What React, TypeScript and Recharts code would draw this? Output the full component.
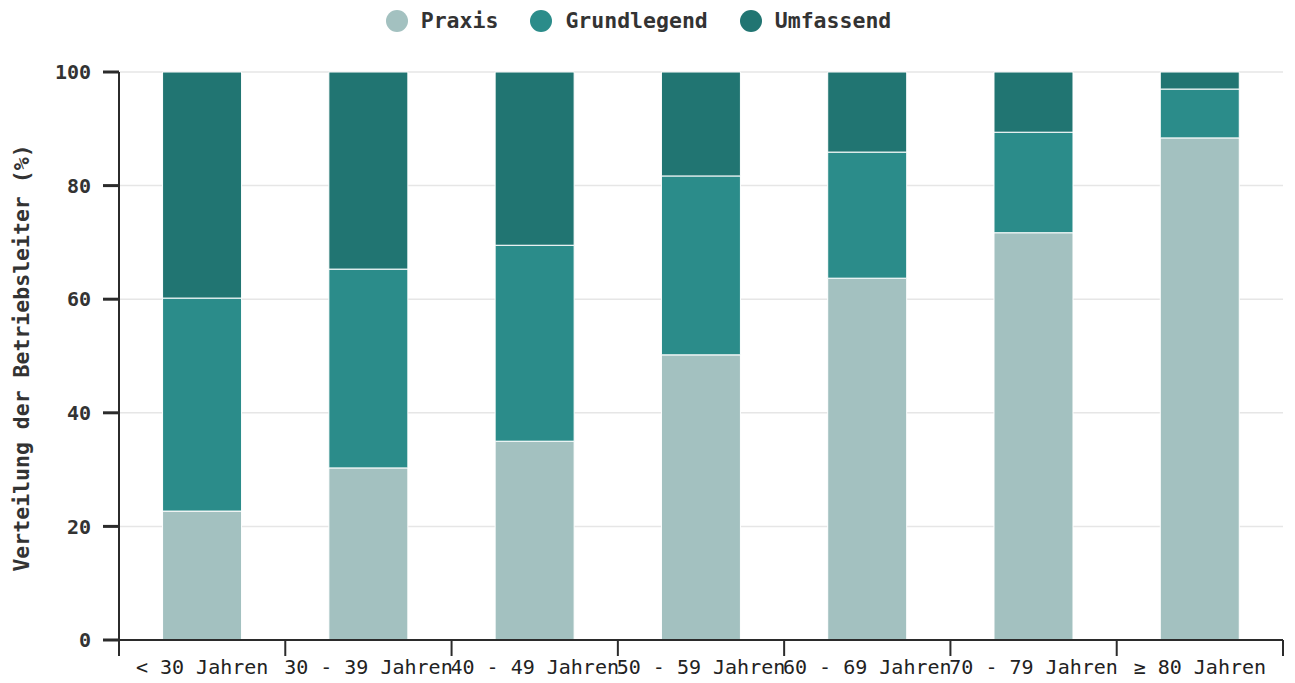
import React from "react";
import { BarChart, Bar, XAxis, YAxis, CartesianGrid } from "recharts";

const categories = [
  "< 30 Jahren",
  "30 - 39 Jahren",
  "40 - 49 Jahren",
  "50 - 59 Jahren",
  "60 - 69 Jahren",
  "70 - 79 Jahren",
  "≥ 80 Jahren",
];
const praxis = [22.7, 30.3, 35.0, 50.2, 63.7, 71.7, 88.4];
const grundlegend = [37.5, 35.0, 34.5, 31.5, 22.2, 17.7, 8.6];
const umfassend = [39.8, 34.7, 30.5, 18.3, 14.1, 10.6, 3.0];
const yTicks = [0, 20, 40, 60, 80, 100];

const series = [
  { key: "praxis", name: "Praxis", color: "#a3c1c0" },
  { key: "grundlegend", name: "Grundlegend", color: "#2b8c8a" },
  { key: "umfassend", name: "Umfassend", color: "#217572" },
];

const data = categories.map((c, i) => ({
  name: c,
  praxis: praxis[i],
  grundlegend: grundlegend[i],
  umfassend: umfassend[i],
}));

const FONT = "'DejaVu Sans Mono', monospace";
const AXIS = "#2b2b2b";

const XTick = (props: any) => {
  const { x, y, payload, index, visibleTicksCount, width } = props;
  const half =
    payload && payload.offset ? payload.offset : width / visibleTicksCount / 2;
  const top = y - 20;
  return (
    <g>
      <line x1={x - half} x2={x - half} y1={top} y2={top + 16} stroke={AXIS} strokeWidth={2} />
      {index === visibleTicksCount - 1 && (
        <line x1={x + half} x2={x + half} y1={top} y2={top + 16} stroke={AXIS} strokeWidth={2} />
      )}
      <text x={x} y={y} dy="0.71em" textAnchor="middle" fill="#222" fontSize={20} fontFamily={FONT}>
        {payload.value}
      </text>
    </g>
  );
};

const YLabel = (props: any) => {
  const vb = props.viewBox || { x: 0, y: 72, width: 119, height: 568 };
  const cx = 21;
  const cy = vb.y + vb.height / 2 + 2;
  return (
    <text
      x={cx}
      y={cy}
      transform={`rotate(-90, ${cx}, ${cy})`}
      textAnchor="middle"
      dominantBaseline="central"
      fill="#333"
      fontSize={21.5}
      fontWeight="bold"
      fontFamily={FONT}
    >
      Verteilung der Betriebsleiter (%)
    </text>
  );
};

export default function App() {
  return (
    <div style={{ position: "absolute", left: 0, top: 0, width: 1295, height: 683, background: "#fff" }}>
      <div
        style={{
          position: "absolute",
          left: 0,
          top: 9,
          width: 1277,
          display: "flex",
          justifyContent: "center",
          alignItems: "center",
          gap: 32,
          fontFamily: FONT,
          fontWeight: "bold",
          fontSize: 21.5,
          color: "#333",
          lineHeight: "24px",
        }}
      >
        {series.map((s) => (
          <div key={s.key} style={{ display: "flex", alignItems: "center", gap: 13 }}>
            <span style={{ width: 22, height: 22, borderRadius: 11, background: s.color, display: "inline-block" }} />
            <span>{s.name}</span>
          </div>
        ))}
      </div>
      <BarChart
        width={1295}
        height={683}
        data={data}
        margin={{ top: 72, right: 12, bottom: 0, left: 0 }}
        barCategoryGap="26.2%"
      >
        <CartesianGrid vertical={false} stroke="#e6e6e6" strokeWidth={1.5} />
        <XAxis
          dataKey="name"
          height={43}
          interval={0}
          tickLine={false}
          tickSize={16}
          tickMargin={4}
          axisLine={{ stroke: AXIS, strokeWidth: 2 }}
          tick={<XTick />}
        />
        <YAxis
          width={119}
          domain={[0, 100]}
          ticks={yTicks}
          tickSize={16}
          tickMargin={12}
          axisLine={{ stroke: AXIS, strokeWidth: 2 }}
          tickLine={{ stroke: AXIS, strokeWidth: 3 }}
          tick={{ fill: "#333", fontSize: 20, fontWeight: "bold", fontFamily: FONT }}
          label={<YLabel />}
        />
        {series.map((s) => (
          <Bar
            key={s.key}
            dataKey={s.key}
            name={s.name}
            stackId="a"
            fill={s.color}
            stroke="#fff"
            strokeWidth={1}
            isAnimationActive={false}
          />
        ))}
      </BarChart>
    </div>
  );
}
